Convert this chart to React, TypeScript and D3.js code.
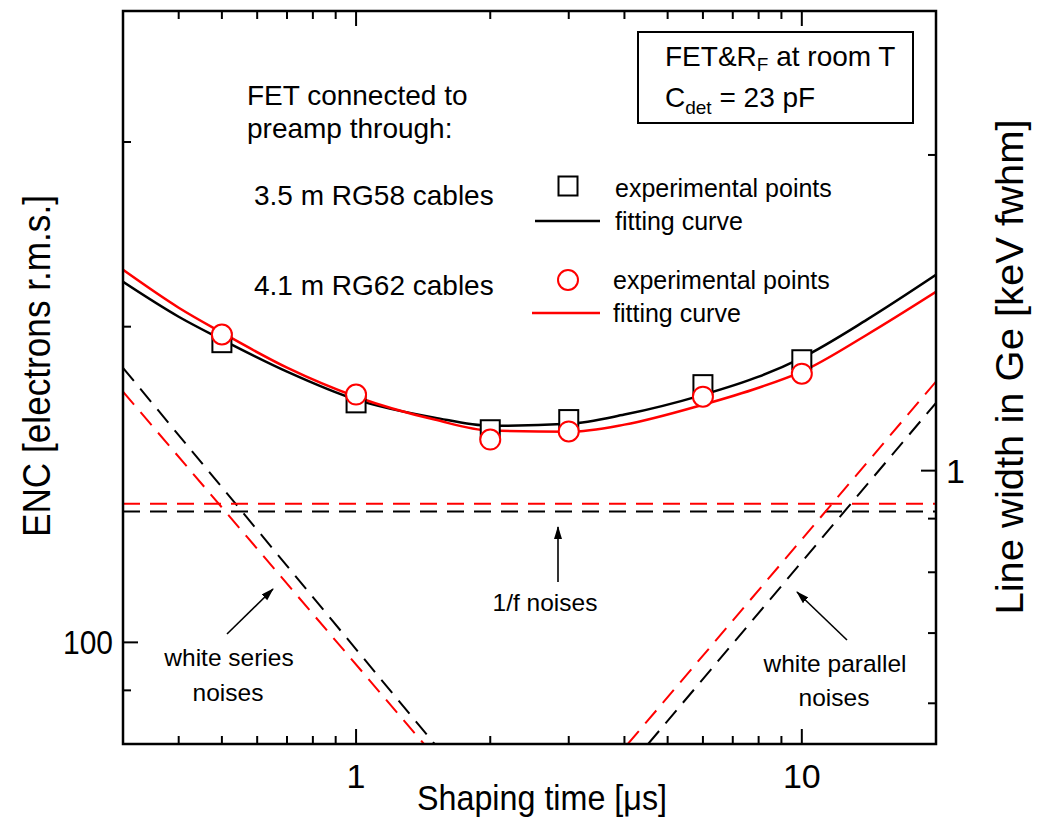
import React, { useRef, useEffect } from 'react';
import * as d3 from 'd3';

// shaping times [us] sampled along the fitting curves
const fitTau = [0.3, 0.4, 0.5, 0.7, 1, 1.5, 2, 3, 4, 6, 8, 10, 14, 20];
const fitRG58 = [220.7, 204.4, 194.4, 181.2, 170.4, 163.8, 160.9, 161.6, 164.9, 172.2, 179.2, 186.8, 203.1, 224.1];
const fitRG62 = [226.6, 208.5, 197.4, 182.8, 171.5, 163.1, 159.2, 158.8, 161.3, 168.5, 174.9, 181.2, 196.5, 215.9];

// experimental points
const expTau = [0.5, 1, 2, 3, 6, 10];
const expRG58 = [193.1, 169.2, 159.5, 163.1, 176.1, 186.0];
const expRG62 = [196.6, 172.3, 156.1, 158.9, 171.5, 180.4];

// noise components [tau, ENC]
const seriesRG58: [number, number][] = [[0.3, 182.7], [1.5, 80]];
const seriesRG62: [number, number][] = [[0.3, 173.4], [1.42, 80]];
const flickerRG58: [number, number][] = [[0.3, 133.3], [20, 133.3]];
const flickerRG62: [number, number][] = [[0.3, 135.6], [20, 135.6]];
const parallelRG58: [number, number][] = [[4.52, 80], [20, 169.2]];
const parallelRG62: [number, number][] = [[4.07, 80], [20, 177.3]];

// axis ticks
const xTicks = [0.4, 0.5, 0.6, 0.7, 0.8, 0.9, 1, 2, 3, 4, 5, 6, 7, 8, 9, 10];
const xLabels = [1, 10];
const yTicks = [90, 100, 200, 300];
const yLabels = [100];
const rTicks = [0.6, 0.7, 0.8, 0.9, 1, 2];
const rLabels = [1];

const ENC_PER_KEV = 145.8;
const RED = '#ff0000';
const FONT = "'Liberation Sans', Arial, Helvetica, sans-serif";

const EncChart: React.FC = () => {
  const svgRef = useRef<SVGSVGElement>(null);

  useEffect(() => {
    if (!svgRef.current) return;
    const width = 1037;
    const height = 817;
    const left = 123, right = 936, top = 11, bottom = 744;

    const svg = d3.select(svgRef.current);
    svg.selectAll('*').remove();
    svg.attr('width', width).attr('height', height);

    const x = d3.scaleLog().domain([0.3, 20]).range([left, right]);
    const y = d3.scaleLog().domain([80, 400]).range([bottom, top]);
    const yR = d3.scaleLog().domain([80 / ENC_PER_KEV, 400 / ENC_PER_KEV]).range([bottom, top]);

    const defs = svg.append('defs');
    defs.append('clipPath').attr('id', 'plot-clip')
      .append('rect').attr('x', left).attr('y', top).attr('width', right - left).attr('height', bottom - top);
    defs.append('marker')
      .attr('id', 'arrow')
      .attr('markerUnits', 'userSpaceOnUse')
      .attr('markerWidth', 14).attr('markerHeight', 10)
      .attr('refX', 12).attr('refY', 4)
      .attr('orient', 'auto')
      .append('path').attr('d', 'M0,0 L13,4 L0,8 Z').attr('fill', '#000');

    const plot = svg.append('g').attr('clip-path', 'url(#plot-clip)');

    const line = d3.line<[number, number]>()
      .x((d) => x(d[0]))
      .y((d) => y(d[1]));

    // dashed noise components
    const dashed: [[number, number][], string][] = [
      [seriesRG58, '#000'], [seriesRG62, RED],
      [flickerRG58, '#000'], [flickerRG62, RED],
      [parallelRG58, '#000'], [parallelRG62, RED],
    ];
    dashed.forEach(([pts, color]) => {
      plot.append('path')
        .attr('d', line(pts))
        .attr('fill', 'none')
        .attr('stroke', color)
        .attr('stroke-width', 2)
        .attr('stroke-dasharray', '17,10');
    });

    // fitting curves
    const curve = d3.line<[number, number]>()
      .x((d) => x(d[0]))
      .y((d) => y(d[1]))
      .curve(d3.curveMonotoneX);
    plot.append('path')
      .attr('d', curve(fitTau.map((t, i) => [t, fitRG58[i]] as [number, number])))
      .attr('fill', 'none').attr('stroke', '#000').attr('stroke-width', 2.5);
    plot.append('path')
      .attr('d', curve(fitTau.map((t, i) => [t, fitRG62[i]] as [number, number])))
      .attr('fill', 'none').attr('stroke', RED).attr('stroke-width', 2.5);

    // experimental points
    const sq = 19;
    plot.selectAll('.sq')
      .data(expTau)
      .enter()
      .append('rect')
      .attr('x', (d) => x(d) - sq / 2)
      .attr('y', (d, i) => y(expRG58[i]) - sq / 2)
      .attr('width', sq).attr('height', sq)
      .attr('fill', '#fff').attr('stroke', '#000').attr('stroke-width', 2);
    plot.selectAll('.ci')
      .data(expTau)
      .enter()
      .append('circle')
      .attr('cx', (d) => x(d))
      .attr('cy', (d, i) => y(expRG62[i]))
      .attr('r', 10)
      .attr('fill', '#fff').attr('stroke', RED).attr('stroke-width', 2);

    // frame
    svg.append('rect')
      .attr('x', left).attr('y', top).attr('width', right - left).attr('height', bottom - top)
      .attr('fill', 'none').attr('stroke', '#000').attr('stroke-width', 2.5);

    const ticks = svg.append('g').attr('stroke', '#000').attr('stroke-width', 2);
    xTicks.forEach((t) => {
      const len = xLabels.includes(t) ? 15 : 8;
      ticks.append('line').attr('x1', x(t)).attr('x2', x(t)).attr('y1', bottom).attr('y2', bottom - len);
      ticks.append('line').attr('x1', x(t)).attr('x2', x(t)).attr('y1', top).attr('y2', top + len);
    });
    yTicks.forEach((t) => {
      const len = yLabels.includes(t) ? 15 : 8;
      ticks.append('line').attr('x1', left).attr('x2', left + len).attr('y1', y(t)).attr('y2', y(t));
    });
    rTicks.forEach((t) => {
      const len = rLabels.includes(t) ? 15 : 8;
      ticks.append('line').attr('x1', right).attr('x2', right - len).attr('y1', yR(t)).attr('y2', yR(t));
    });

    const text = (px: number, py: number, s: string, size: number, anchor = 'start') =>
      svg.append('text')
        .attr('x', px).attr('y', py)
        .attr('text-anchor', anchor)
        .attr('dominant-baseline', 'central')
        .style('font-family', FONT)
        .style('font-size', `${size}px`)
        .attr('fill', '#000')
        .text(s);

    // tick labels
    xLabels.forEach((t) => text(x(t), 776, String(t), 34, 'middle'));
    yLabels.forEach((t) => text(113, y(t), String(t), 34, 'end').attr('textLength', 50).attr('lengthAdjust', 'spacingAndGlyphs'));
    rLabels.forEach((t) => text(946, yR(t), String(t), 34, 'start'));

    // axis titles
    text(542, 797, 'Shaping time [μs]', 35, 'middle')
      .attr('textLength', 250).attr('lengthAdjust', 'spacingAndGlyphs');
    text(0, 0, 'ENC [electrons r.m.s.]', 38, 'middle')
      .attr('transform', 'translate(37,366) rotate(-90)')
      .attr('textLength', 342).attr('lengthAdjust', 'spacingAndGlyphs');
    text(0, 0, 'Line width in Ge [keV fwhm]', 38, 'middle')
      .attr('transform', 'translate(1010,367) rotate(-90)')
      .attr('textLength', 495).attr('lengthAdjust', 'spacingAndGlyphs');

    // description
    text(247, 95, 'FET connected to', 28);
    text(247, 128, 'preamp through:', 28);
    text(254, 195, '3.5 m RG58 cables', 28);
    text(254, 285, '4.1 m RG62 cables', 28);

    // legend
    svg.append('rect').attr('x', 568 - sq / 2).attr('y', 186 - sq / 2).attr('width', sq).attr('height', sq)
      .attr('fill', '#fff').attr('stroke', '#000').attr('stroke-width', 2);
    svg.append('line').attr('x1', 535).attr('x2', 600).attr('y1', 221).attr('y2', 221)
      .attr('stroke', '#000').attr('stroke-width', 2.5);
    svg.append('circle').attr('cx', 568).attr('cy', 280).attr('r', 10)
      .attr('fill', '#fff').attr('stroke', RED).attr('stroke-width', 2);
    svg.append('line').attr('x1', 532).attr('x2', 600).attr('y1', 313).attr('y2', 313)
      .attr('stroke', RED).attr('stroke-width', 2.5);
    text(615, 188, 'experimental points', 25);
    text(615, 221, 'fitting curve', 25);
    text(613, 280, 'experimental points', 25);
    text(613, 313, 'fitting curve', 25);

    // conditions box
    svg.append('rect').attr('x', 638).attr('y', 32).attr('width', 275).attr('height', 91)
      .attr('fill', '#fff').attr('stroke', '#000').attr('stroke-width', 2);
    const t1 = text(665, 56, 'FET&R', 28);
    t1.append('tspan').attr('dy', 8).style('font-size', '19px').text('F');
    t1.append('tspan').attr('dy', -8).text(' at room T');
    const t2 = text(665, 97, 'C', 28);
    t2.append('tspan').attr('dy', 10).style('font-size', '19px').text('det');
    t2.append('tspan').attr('dy', -10).text(' = 23 pF');

    // annotations
    const arrow = (x1: number, y1: number, x2: number, y2: number) =>
      svg.append('line').attr('x1', x1).attr('y1', y1).attr('x2', x2).attr('y2', y2)
        .attr('stroke', '#000').attr('stroke-width', 1.6).attr('marker-end', 'url(#arrow)');
    arrow(558, 582, 558, 527);
    arrow(227, 634, 273, 589);
    arrow(847, 640, 797, 592);
    text(545, 602, '1/f noises', 24.5, 'middle');
    text(229, 657, 'white series', 24.5, 'middle');
    text(228, 692, 'noises', 24.5, 'middle');
    text(835, 663, 'white parallel', 24.5, 'middle');
    text(834, 697, 'noises', 24.5, 'middle');
  }, []);

  return <svg ref={svgRef} style={{ position: 'absolute', left: 0, top: 0, background: '#fff' }} />;
};

export default function App() {
  return <EncChart />;
}
